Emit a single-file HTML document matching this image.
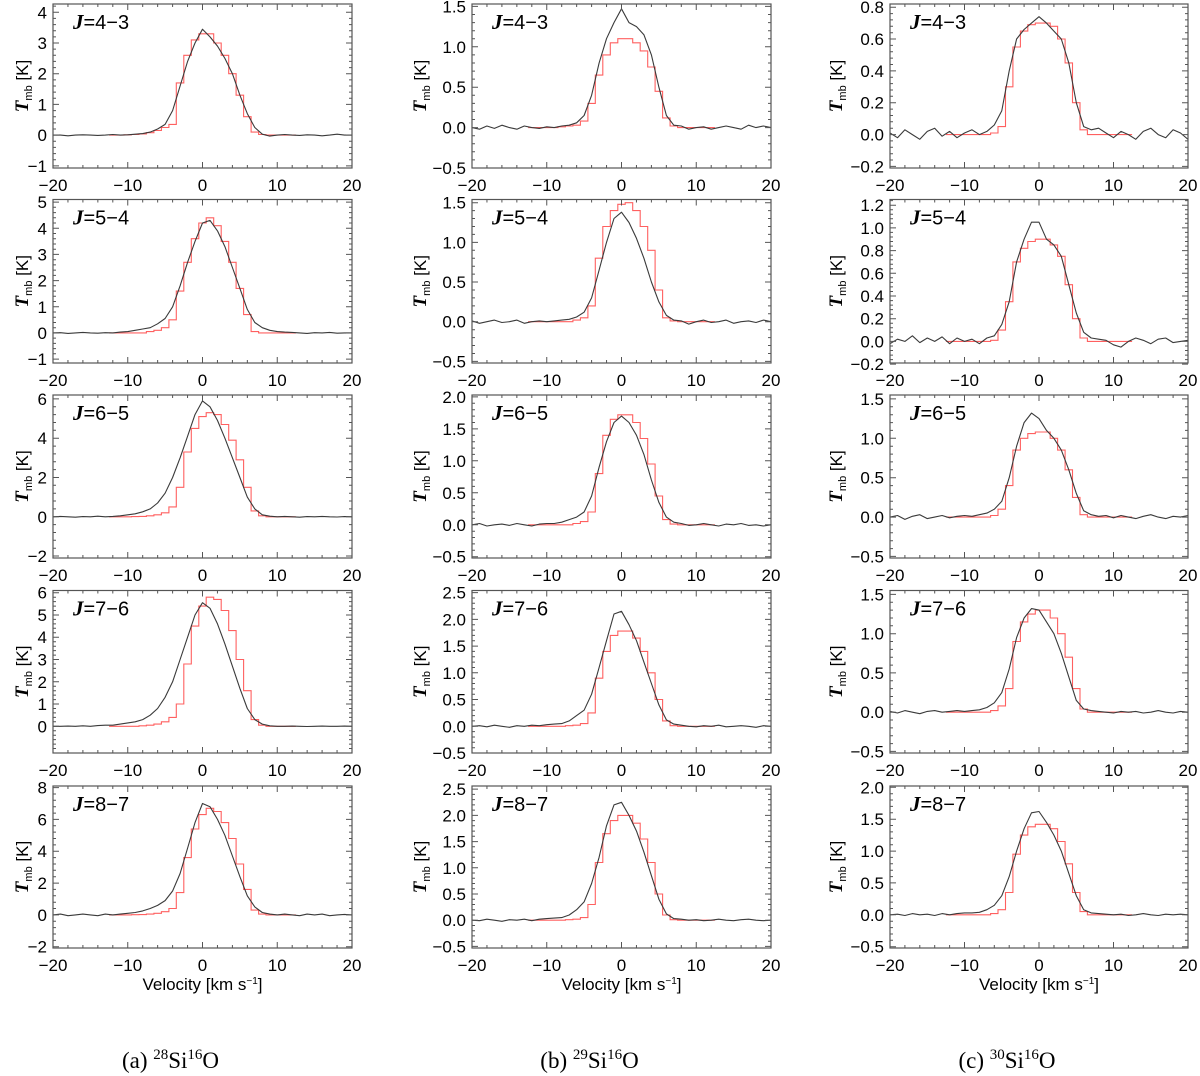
<!DOCTYPE html>
<html><head><meta charset="utf-8">
<style>
html,body{margin:0;padding:0;background:#fff;}
svg{display:block;}
text{font-family:"Liberation Sans",sans-serif;}
</style></head>
<body>
<svg id="fig" width="1200" height="1076" viewBox="0 0 1200 1076" xmlns="http://www.w3.org/2000/svg"></svg>
<script>
// Transition labels
const transitions = ["J=4\u22123","J=5\u22124","J=6\u22125","J=7\u22126","J=8\u22127"];
const captions = [["(a) ","28","Si","16","O"],["(b) ","29","Si","16","O"],["(c) ","30","Si","16","O"]];
const xTicks = [-20,-10,0,10,20];
// Observed spectra (black), v = -20..20 km/s, 1 km/s step
const obsA1=[0,0,-0.02,0,0.01,0,-0.01,0,0.02,0,0.01, 0.03,0.05,0.1,0.2,0.35,0.8,1.6,2.4,3.0,3.45, 3.2,2.9,2.5,2.0,1.3,0.7,0.25,0.03,-0.03,0, 0.02,0,-0.01,0.01,0,-0.02,0,0.03,0,0];
const obsA2=[0,0.01,-0.02,0,0.02,0,-0.01,0.01,0,0.03,0.05, 0.1,0.15,0.2,0.35,0.55,1.0,1.8,2.7,3.5,4.2, 4.3,3.9,3.3,2.5,1.7,0.9,0.4,0.2,0.1,0.05, 0.03,0.02,0,-0.02,0.01,0,0.02,-0.01,0,0];
const obsA3=[0,0.02,0,-0.02,0.01,0,0.03,0,0.02,0.05,0.1, 0.15,0.25,0.4,0.7,1.2,2.0,3.0,4.1,5.2,5.9, 5.6,4.9,4.0,3.0,2.0,1.0,0.4,0.1,0.03,0, 0.02,0,-0.02,0.01,0,0.02,0,-0.01,0.01,0];
const obsA4=[0,0,0.01,0,0.02,0,0.03,0.05,0.05,0.1,0.15, 0.2,0.3,0.5,0.8,1.3,2.0,3.0,4.0,5.0,5.55, 5.3,4.6,3.7,2.7,1.7,0.8,0.3,0.1,0.02,0, 0,0.01,0,-0.01,0,0.01,0,0,0.01,0];
const obsA5=[0,0.05,-0.05,0,0.05,0,-0.05,0.05,0,0.05,0.1, 0.15,0.25,0.4,0.6,0.9,1.5,2.6,4.2,5.8,7.0, 6.8,6.0,5.0,3.7,2.4,1.2,0.5,0.15,0.05,0, 0.05,0,-0.05,0.05,0,0.05,-0.05,0,0.03,0];
const obsB1=[0,-0.02,0.02,-0.01,0.03,0,-0.02,0.02,0,-0.01,0.01, 0,0.02,0.03,0.06,0.15,0.4,0.8,1.1,1.3,1.47, 1.3,1.25,1.15,0.9,0.5,0.15,0.03,0.02,-0.02,0, 0.01,-0.02,0,0.02,0,-0.02,0.03,0,0.02,0];
const obsB2=[0.01,-0.02,0,0.02,-0.01,0,0.02,-0.02,0,0.01,0, 0.01,0.02,0.03,0.06,0.12,0.3,0.65,1.0,1.3,1.38, 1.25,1.05,0.8,0.5,0.25,0.08,0.02,0.01,-0.03,0, 0.02,-0.01,0,0.02,-0.02,0,0.01,-0.01,0.02,0];
const obsB3=[0,0.02,-0.02,0,0.01,-0.01,0.02,0,-0.02,0.01,0.02, 0.02,0.04,0.08,0.12,0.2,0.45,0.9,1.3,1.6,1.7, 1.6,1.4,1.1,0.7,0.35,0.12,0.04,0.02,-0.01,0, 0.02,0,-0.02,0.01,0,0.02,-0.01,0,-0.02,0];
const obsB4=[0,0.01,-0.01,0.02,0,-0.02,0.01,0,0.02,0.01,0.03, 0.04,0.05,0.1,0.2,0.3,0.6,1.1,1.6,2.1,2.15, 1.9,1.6,1.2,0.8,0.4,0.12,0.04,0.02,0,-0.01, 0.01,0,0.02,-0.01,0,0.01,0,-0.02,0.01,0];
const obsB5=[0,-0.01,0.02,0,-0.02,0.01,0,0.02,-0.01,0.02,0.03, 0.04,0.05,0.1,0.2,0.35,0.7,1.2,1.8,2.2,2.25, 2.0,1.7,1.3,0.85,0.4,0.12,0.03,0.02,0,0.01, -0.01,0,0.02,0,-0.01,0.01,0.02,0,-0.01,0];
const obsC1=[0.01,-0.02,0.03,0,-0.03,0.02,0.04,-0.01,0.02,-0.02,0.01, 0.03,0.0,0.02,0.06,0.15,0.4,0.6,0.66,0.7,0.74, 0.7,0.65,0.6,0.45,0.2,0.05,0.03,0.04,0.01,-0.02, 0.02,0,-0.03,0.02,0.04,0,-0.02,0.03,0.01,-0.03];
const obsC2=[-0.02,0.02,0.0,0.05,-0.01,0.03,0,0.04,-0.02,0.03,0.0, 0.02,-0.02,0.03,0.05,0.15,0.35,0.7,0.9,1.05,1.05, 0.9,0.85,0.75,0.5,0.25,0.08,0.03,0.02,0.01,-0.03, -0.05,0,0.03,0.01,-0.02,0.02,0.03,-0.01,0.0,0.01];
const obsC3=[0,0.02,-0.03,0.01,0.03,-0.02,0,0.02,-0.01,0.01,0.02, 0.01,0.03,0.05,0.1,0.2,0.5,0.9,1.2,1.32,1.25, 1.1,1.0,0.85,0.6,0.3,0.08,0.03,0.01,0.02,-0.01, 0.02,0,-0.02,0.01,0.03,0,-0.02,0.01,0,0.02];
const obsC4=[0.01,-0.01,0.02,0,-0.02,0.01,0.02,0,0.01,0.02,0.01, 0.02,0.03,0.06,0.12,0.25,0.55,0.95,1.2,1.32,1.3, 1.15,1.0,0.75,0.45,0.15,0.04,0.02,0.01,0,-0.01, 0.01,0,0.01,-0.01,0,0.02,0,-0.01,0.01,0];
const obsC5=[0,0.01,-0.01,0.02,0,0.01,-0.01,0.02,0,0.02,0.03, 0.03,0.04,0.08,0.15,0.3,0.6,1.0,1.35,1.6,1.62, 1.45,1.25,1.0,0.65,0.3,0.08,0.03,0.02,0.01,0, 0.01,-0.01,0,0.02,0,-0.01,0.01,0,0.01,0];
// Model spectra (red), bins centred at v = -12..12 km/s
const modA1=[0,0,0.01,0.02,0.04,0.08,0.15,0.25,0.35,1.7,2.6,3.1, 3.3,3.3,3.0,2.6,2.0,1.3,0.6,0.1,0.02,0,0,0,0];
const modA2=[0,0,0,0,0,0.05,0.1,0.2,0.5,1.6,2.7,3.6, 4.2,4.4,4.1,3.5,2.7,1.7,0.7,0.05,0,0,0,0,0];
const modA3=[0,0,0,0.01,0.02,0.05,0.1,0.2,0.5,1.5,3.3,4.5, 5.1,5.3,5.2,4.7,3.9,2.9,1.5,0.3,0.05,0,0,0,0];
const modA4=[0,0,0,0,0.02,0.05,0.1,0.2,0.4,1.0,2.8,4.5, 5.4,5.8,5.7,5.2,4.3,3.0,1.6,0.3,0.05,0,0,0,0];
const modA5=[0,0,0,0.01,0.02,0.05,0.1,0.2,0.4,1.4,3.6,5.4, 6.3,6.7,6.5,5.8,4.8,3.2,1.6,0.3,0.05,0,0,0,0];
const modB1=[0,0,0,0,0.01,0.02,0.03,0.08,0.3,0.65,0.9,1.05, 1.1,1.1,1.05,0.95,0.75,0.45,0.12,0.02,0,0,0,0,0];
const modB2=[0,0,0,0,0,0,0.02,0.05,0.2,0.8,1.2,1.4, 1.48,1.5,1.4,1.2,0.9,0.4,0.05,0.01,0,0,0,0,0];
const modB3=[0,0,0,0,0,0,0.02,0.05,0.2,0.8,1.4,1.65, 1.72,1.72,1.6,1.35,0.95,0.45,0.08,0.01,0,0,0,0,0];
const modB4=[0,0,0,0,0,0.01,0.02,0.05,0.25,0.9,1.4,1.7, 1.78,1.78,1.65,1.4,1.0,0.5,0.1,0.01,0,0,0,0,0];
const modB5=[0,0,0,0,0,0.01,0.02,0.05,0.3,1.1,1.65,1.9, 2.0,2.0,1.85,1.55,1.1,0.5,0.1,0.01,0,0,0,0,0];
const modC1=[0,0,0,0,0,0,0.01,0.05,0.3,0.55,0.65,0.69, 0.7,0.7,0.68,0.6,0.45,0.2,0.03,0,0,0,0,0,0];
const modC2=[0,0,0,0,0,0,0.01,0.1,0.35,0.7,0.82,0.88, 0.9,0.9,0.85,0.75,0.5,0.2,0.03,0,0,0,0,0,0];
const modC3=[0,0,0,0,0,0,0.02,0.1,0.4,0.85,1.0,1.06, 1.08,1.08,1.0,0.85,0.6,0.25,0.03,0,0,0,0,0,0];
const modC4=[0,0,0,0,0,0,0.02,0.08,0.3,0.9,1.15,1.25, 1.3,1.3,1.2,1.0,0.7,0.3,0.04,0,0,0,0,0,0];
const modC5=[0,0,0,0,0,0,0.02,0.08,0.35,0.95,1.25,1.38, 1.42,1.42,1.35,1.15,0.8,0.35,0.05,0,0,0,0,0,0];
// y-axis ranges and tick labels per panel
const yRangesA=[[-1.07,4.27],[-1.15,5.1],[-2.1,6.2],[-1.2,6.1],[-2.08,8.1]];
const yRangesB=[[-0.5,1.53],[-0.52,1.54],[-0.52,2.03],[-0.5,2.54],[-0.53,2.56]];
const yRangesC=[[-0.21,0.82],[-0.19,1.25],[-0.52,1.55],[-0.52,1.55],[-0.52,2.02]];
const yTicksA=[["-1","0","1","2","3","4"],["-1","0","1","2","3","4","5"],["-2","0","2","4","6"],["0","1","2","3","4","5","6"],["-2","0","2","4","6","8"]];
const yTicksB=[["-0.5","0.0","0.5","1.0","1.5"],["-0.5","0.0","0.5","1.0","1.5"],["-0.5","0.0","0.5","1.0","1.5","2.0"],["-0.5","0.0","0.5","1.0","1.5","2.0","2.5"],["-0.5","0.0","0.5","1.0","1.5","2.0","2.5"]];
const yTicksC=[["-0.2","0.0","0.2","0.4","0.6","0.8"],["-0.2","0.0","0.2","0.4","0.6","0.8","1.0","1.2"],["-0.5","0.0","0.5","1.0","1.5"],["-0.5","0.0","0.5","1.0","1.5"],["-0.5","0.0","0.5","1.0","1.5","2.0"]];

const obs=[[obsA1,obsA2,obsA3,obsA4,obsA5],[obsB1,obsB2,obsB3,obsB4,obsB5],[obsC1,obsC2,obsC3,obsC4,obsC5]];
const mod=[[modA1,modA2,modA3,modA4,modA5],[modB1,modB2,modB3,modB4,modB5],[modC1,modC2,modC3,modC4,modC5]];
const yRanges=[yRangesA,yRangesB,yRangesC];
const yTicks=[yTicksA,yTicksB,yTicksC];

const NS="http://www.w3.org/2000/svg";
const svg=document.getElementById('fig');
const colLeft=[53,472,890], colRight=[352,771,1188], titleOff=[31,52,54];
function mk(tag,attrs,parent){const e=document.createElementNS(NS,tag);for(const k in attrs)e.setAttribute(k,attrs[k]);(parent||svg).appendChild(e);return e;}
const fmt=s=>s.replace('-','\u2212');

for(let c=0;c<3;c++){
  for(let r=0;r<5;r++){
    const top=4+195.5*r, bot=168+195*r, L=colLeft[c], R=colRight[c];
    const [y0,y1]=yRanges[c][r];
    const X=v=>L+(v+20)/40*(R-L);
    const Y=t=>bot-(t-y0)/(y1-y0)*(bot-top);
    const g=mk('g',{});
    
    
    const cp=mk('clipPath',{id:'cp'+c+r},g);
    mk('rect',{x:L,y:top,width:R-L,height:bot-top},cp);
    const m=mod[c][r]; let d='';
    for(let i=0;i<m.length;i++){const v=-12+i;d+=(i?'L':'M')+X(v-0.5).toFixed(1)+' '+Y(m[i]).toFixed(1)+'L'+X(v+0.5).toFixed(1)+' '+Y(m[i]).toFixed(1);}
    const mp=mk('path',{d:d,fill:'none',stroke:'#ff6060','stroke-width':1.1,'clip-path':'url(#cp'+c+r+')'},g);
    
    
    const o=obs[c][r]; d='';
    for(let i=0;i<o.length;i++){const v=-20+i;d+=(i?'L':'M')+X(v).toFixed(1)+' '+Y(o[i]).toFixed(1);}
    const op=mk('path',{d:d,fill:'none',stroke:'#3a3a3a','stroke-width':1.1,'stroke-linejoin':'round','clip-path':'url(#cp'+c+r+')'},g);
    
    
    mk('rect',{x:L,y:top,width:R-L,height:bot-top,fill:'none',stroke:'#555','stroke-width':1.2},g);
    let td='';
    for(let v=-20;v<=20;v+=2){const big=v%10===0,len=big?6:3;const x=X(v);td+=`M${x} ${bot}v${-len}M${x} ${top}v${len}`;}
    const yt=yTicks[c][r];
    const vals=yt.map(Number); const step=vals[vals.length-1]-vals[vals.length-2];
    for(let t=Math.ceil(y0/(step/5))*(step/5);t<=y1;t+=step/5){const y=Y(t).toFixed(1);td+=`M${L} ${y}h3M${R} ${y}h-3`;}
    vals.forEach(t=>{const y=Y(t).toFixed(1);td+=`M${L} ${y}h6M${R} ${y}h-6`;});
    mk('path',{d:td,stroke:'#555','stroke-width':1,fill:'none'},g);
    const ax=mk('g',{},g);
    
    
    xTicks.forEach(v=>{const t=mk('text',{x:X(v),y:bot+23,'font-size':17,'text-anchor':'middle'},ax);t.textContent=fmt(String(v));});
    const ay=mk('g',{},g);
    
    
    yt.forEach(s=>{const t=mk('text',{x:L-6,y:Y(Number(s))+6,'font-size':17,'text-anchor':'end'},ay);t.textContent=fmt(s);});
    const yx=L-titleOff[c]+6, yc=(top+bot)/2;
    const tt=mk('text',{x:yx,y:yc,'font-size':17,'text-anchor':'middle',transform:`rotate(-90 ${yx} ${yc})`},g);
    
    
    tt.innerHTML='<tspan font-family="Liberation Serif" font-style="italic" font-weight="bold" font-size="19">T</tspan><tspan font-size="11" dy="4">mb</tspan><tspan dy="-4"> [K]</tspan>';
    const lb=mk('text',{x:L+20,y:top+25,'font-size':20},g);
    
    
    lb.innerHTML='<tspan font-family="Liberation Serif" font-style="italic" font-weight="bold" font-size="21">J</tspan>'+transitions[r].slice(1);
    if(r===4){
      const xl=mk('text',{x:(L+R)/2,y:bot+42,'font-size':17,'text-anchor':'middle'},g);
      
      
      xl.innerHTML='Velocity [km s<tspan font-size="10" dy="-6">\u22121</tspan><tspan dy="6">]</tspan>';
    }
  }
  const cap=captions[c];
  const ct=mk('text',{x:(colLeft[c]+colRight[c])/2-32,y:1068,'font-size':23,'text-anchor':'middle'});
  
  
  ct.setAttribute('style','font-family:"Liberation Serif",serif');
  ct.innerHTML=cap[0]+'<tspan font-size="15" dy="-9">'+cap[1]+'</tspan><tspan dy="9">'+cap[2]+'</tspan><tspan font-size="15" dy="-9">'+cap[3]+'</tspan><tspan dy="9">'+cap[4]+'</tspan>';
}
</script>
</body></html>
